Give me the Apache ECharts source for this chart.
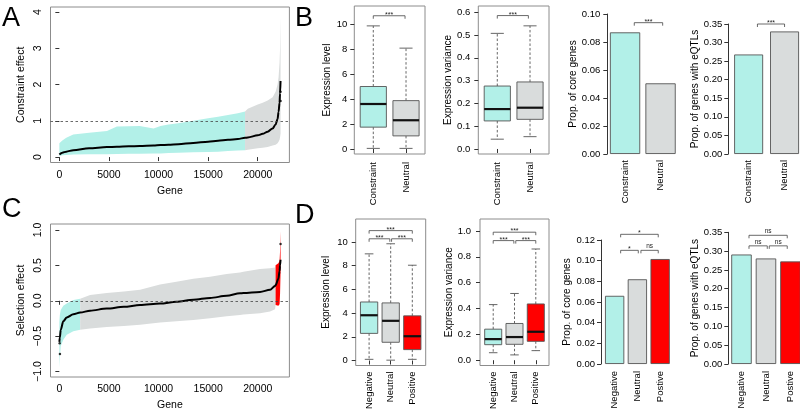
<!DOCTYPE html>
<html><head><meta charset="utf-8">
<script src="https://cdn.jsdelivr.net/npm/echarts@6/dist/echarts.min.js"></script>
<style>html,body{margin:0;padding:0;background:#fff}#c{width:800px;height:412px}</style>
</head><body><div id="c"></div>
<script>
// ---------- Panel A: constraint effect ----------
const geneA  = [1, 300, 700, 1400, 3000, 4800, 5800, 7000, 8100, 9500, 10200, 11000, 12000, 13500, 15000, 16000, 17000, 18000, 18720, 19000, 20000, 20500, 21000, 21500, 21800, 22000, 22100, 22200, 22250, 22300];
const meanA  = [0.07, 0.12, 0.15, 0.19, 0.24, 0.275, 0.285, 0.295, 0.305, 0.32, 0.33, 0.34, 0.355, 0.39, 0.425, 0.45, 0.475, 0.50, 0.53, 0.54, 0.60, 0.64, 0.70, 0.79, 0.90, 1.05, 1.25, 1.5, 1.76, 2.1];
const upperA = [0.38, 0.46, 0.53, 0.62, 0.67, 0.72, 0.84, 0.85, 0.86, 0.79, 0.86, 0.90, 0.93, 1.0, 1.07, 1.11, 1.16, 1.21, 1.26, 1.33, 1.45, 1.5, 1.56, 1.65, 1.8, 2.0, 2.2, 2.6, 3.0, 3.88];
const lowerA = [0.03, 0.05, 0.06, 0.07, 0.075, 0.08, 0.085, 0.09, 0.09, 0.1, 0.1, 0.11, 0.12, 0.13, 0.14, 0.15, 0.165, 0.18, 0.19, 0.2, 0.24, 0.26, 0.28, 0.32, 0.34, 0.38, 0.42, 0.48, 0.55, 0.65];
const segA = [[1, 18720], [18720, 22300]];
const segColA = ['#b2f0e8', '#d9dcdc'];
const extraPtsA = [[22300, 1.55], [22300, 1.8]];
const refA = 1;

// ---------- Panel C: selection effect ----------
const geneC  = [1, 50, 140, 400, 745, 1410, 2100, 3100, 4780, 6500, 8140, 10150, 11800, 13510, 15200, 16870, 18215, 18550, 20230, 21240, 21745, 21800, 22080, 22200, 22250, 22300];
const meanC  = [-0.58, -0.52, -0.41, -0.29, -0.235, -0.19, -0.166, -0.14, -0.11, -0.085, -0.06, -0.04, -0.015, 0.015, 0.04, 0.07, 0.105, 0.11, 0.125, 0.155, 0.21, 0.22, 0.31, 0.42, 0.5, 0.58];
const upperC = [-0.3, -0.2, -0.13, -0.07, -0.04, 0.01, 0.03, 0.08, 0.11, 0.13, 0.156, 0.23, 0.27, 0.31, 0.34, 0.378, 0.40, 0.41, 0.447, 0.46, 0.47, 0.5, 0.53, 0.56, 0.7, 0.98];
const lowerC = [-0.95, -0.8, -0.64, -0.55, -0.48, -0.43, -0.41, -0.39, -0.37, -0.355, -0.34, -0.305, -0.29, -0.27, -0.245, -0.22, -0.2, -0.195, -0.176, -0.15, -0.12, -0.06, -0.07, -0.05, 0.1, 0.4];
const segC = [[1, 2100], [2100, 21800], [21800, 22300]];
const segColC = ['#b2f0e8', '#d9dcdc', '#ff0000'];
const extraPtsC = [[30, -0.6], [60, -0.75], [22300, 0.8]];
const refC = 0;

// ---------- Panel B ----------
const catsB = ['Constraint', 'Neutral'];
const colB = ['#b2f0e8', '#d9dcdc'];
// [min, Q1, median, Q3, max]
const exprLevelB = [[0.05, 1.75, 3.6, 5.0, 9.85], [0.05, 1.05, 2.3, 3.87, 8.07]];
const exprVarB   = [[0.043, 0.123, 0.175, 0.276, 0.507], [0.054, 0.13, 0.181, 0.294, 0.54]];
const coreB  = [0.0869, 0.0505];
const eqtlB  = [0.268, 0.330];
// [x1, x2, y, label]
const sigB1 = [[1, 1.97, 10.66, '***']];
const sigB2 = [[1, 1.95, 0.585, '***']];
const sigB3 = [[1.26, 2.06, 0.0938, '***']];
const sigB4 = [[1.245, 2.0, 0.35, '***']];

// ---------- Panel D ----------
const catsD = ['Negative', 'Neutral', 'Positive'];
const catsD2 = ['Negative', 'Neutral', 'Postive'];
const colD = ['#b2f0e8', '#d9dcdc', '#ff0000'];
const exprLevelD = [[0.1, 2.29, 3.82, 4.94, 9.0], [0.03, 1.54, 3.35, 4.86, 9.85], [0.1, 0.92, 2.05, 3.77, 8.04]];
const exprVarD   = [[0.058, 0.12, 0.163, 0.24, 0.43], [0.041, 0.123, 0.179, 0.284, 0.516], [0.074, 0.146, 0.22, 0.435, 0.86]];
const coreD = [0.066, 0.082, 0.1016];
const eqtlD = [0.291, 0.2805, 0.2726];
const sigD1 = [[1, 3, 10.96, '***'], [1, 1.96, 10.27, '***'], [2.04, 3, 10.27, '***']];
const sigD2 = [[1, 3, 0.99, '***'], [1, 1.97, 0.925, '***'], [2.06, 3, 0.925, '***']];
const sigD3 = [[1.264, 2.917, 0.1255, '*'], [1.264, 2.04, 0.110, '*'], [2.156, 2.917, 0.110, 'ns']];
const sigD4 = [[1.306, 2.869, 0.342, 'ns'], [1.306, 2.053, 0.314, 'ns'], [2.134, 2.869, 0.314, 'ns']];

// ---------- tick labels ----------
const tickGene = [0, 5000, 10000, 15000, 20000];
const tickConstraint = [0, 1, 2, 3, 4];
const tickSelection = [-1, -0.5, 0, 0.5, 1];
const tickLevel = [0, 2, 4, 6, 8, 10];
const tickVarB = [0, 0.1, 0.2, 0.3, 0.4, 0.5, 0.6];
const tickVarD = [0, 0.2, 0.4, 0.6, 0.8, 1.0];
const tickCoreB = [0, 0.02, 0.04, 0.06, 0.08, 0.10];
const tickCoreD = [0, 0.02, 0.04, 0.06, 0.08, 0.10, 0.12];
const tickEqtl = [0, 0.05, 0.10, 0.15, 0.20, 0.25, 0.30, 0.35];

const FONT = '"Liberation Sans", Arial, Helvetica, sans-serif';
const AX = '#333', BORDER = '#8c8c8c';

function fmtN(d) { return v => (v < 0 ? '\u2212' : '') + Math.abs(v).toFixed(d); }

function mkX(gi, min, max, vals, fmt, o) {
  o = o || {};
  return {
    gridIndex: gi, type: 'value', min: min, max: max,
    splitLine: { show: false }, axisLine: { show: false },
    axisTick: { show: o.tick !== false, customValues: vals, length: 4, lineStyle: { color: AX, width: 1 } },
    axisLabel: { customValues: vals, formatter: fmt, rotate: o.rotate || 0, margin: o.margin || 7,
      fontSize: o.fs || 9.5, color: '#000', fontFamily: FONT },
    name: o.name || '', nameLocation: 'middle', nameGap: o.nameGap || 24,
    nameTextStyle: { fontSize: o.nfs || 10.5, color: '#000', fontFamily: FONT }
  };
}
function mkY(gi, min, max, vals, fmt, o) {
  o = o || {};
  return {
    gridIndex: gi, type: 'value', min: min, max: max, offset: o.offset || 0,
    splitLine: { show: false }, axisLine: { show: !!o.line, lineStyle: { color: AX, width: 1 } },
    axisTick: { show: true, customValues: vals, length: 4, lineStyle: { color: AX, width: 1 } },
    axisLabel: { customValues: vals, formatter: fmt, rotate: o.rotate || 0, margin: o.margin || 7,
      fontSize: o.fs || 9.5, color: '#000', fontFamily: FONT },
    name: o.name || '', nameLocation: 'middle', nameGap: o.nameGap || 24, nameRotate: 90,
    nameTextStyle: { fontSize: o.nfs || 10, color: '#000', fontFamily: FONT }
  };
}

function bandSeries(gi, genes, up, lo, segs, colors) {
  return {
    type: 'custom', xAxisIndex: gi, yAxisIndex: gi, silent: true, clip: true, z: 1,
    data: segs.map((s, i) => [s[0], s[1], i]),
    renderItem(params, api) {
      const a = api.value(0), b = api.value(1), ci = api.value(2);
      const top = [], bot = [];
      for (let i = 0; i < genes.length; i++) {
        if (genes[i] >= a && genes[i] <= b) {
          top.push(api.coord([genes[i], up[i]]));
          bot.push(api.coord([genes[i], lo[i]]));
        }
      }
      return { type: 'polygon', shape: { points: top.concat(bot.reverse()) }, style: { fill: colors[ci], stroke: null } };
    }
  };
}
function meanSeries(gi, genes, mean, ref) {
  return {
    type: 'line', xAxisIndex: gi, yAxisIndex: gi, silent: true, z: 3,
    data: genes.map((g, i) => [g, mean[i]]), showSymbol: false, symbol: 'none',
    smooth: 0.3, smoothMonotone: 'x',
    lineStyle: { color: '#000', width: 2 },
    markLine: { silent: true, symbol: 'none', label: { show: false },
      lineStyle: { color: '#444', width: 0.8, type: [2.5, 2.5] }, data: [{ yAxis: ref }] }
  };
}
function ptsSeries(gi, pts) {
  return { type: 'scatter', xAxisIndex: gi, yAxisIndex: gi, silent: true, z: 4, data: pts,
    symbolSize: 2.5, itemStyle: { color: '#000' } };
}
function boxSeries(gi, rows, colors) {
  return {
    type: 'custom', xAxisIndex: gi, yAxisIndex: gi, silent: true, z: 3,
    data: rows.map((r, i) => [i + 1].concat(r)),
    renderItem(params, api) {
      const x = api.value(0);
      const w = api.size([0.8, 0])[0], hw = w / 2;
      const pMin = api.coord([x, api.value(1)]), pQ1 = api.coord([x, api.value(2)]),
        pMed = api.coord([x, api.value(3)]), pQ3 = api.coord([x, api.value(4)]), pMax = api.coord([x, api.value(5)]);
      const cx = pMed[0];
      const dash = { stroke: '#555', lineWidth: 0.9, lineDash: [2.5, 2] };
      const solid = { stroke: '#555', lineWidth: 0.9 };
      return { type: 'group', children: [
        { type: 'line', shape: { x1: cx, y1: pQ3[1], x2: cx, y2: pMax[1] }, style: dash },
        { type: 'line', shape: { x1: cx, y1: pQ1[1], x2: cx, y2: pMin[1] }, style: dash },
        { type: 'line', shape: { x1: cx - hw / 2, y1: pMax[1], x2: cx + hw / 2, y2: pMax[1] }, style: solid },
        { type: 'line', shape: { x1: cx - hw / 2, y1: pMin[1], x2: cx + hw / 2, y2: pMin[1] }, style: solid },
        { type: 'rect', shape: { x: cx - hw, y: pQ3[1], width: w, height: pQ1[1] - pQ3[1] },
          style: { fill: colors[params.dataIndex], stroke: '#555', lineWidth: 0.9 } },
        { type: 'line', shape: { x1: cx - hw, y1: pMed[1], x2: cx + hw, y2: pMed[1] }, style: { stroke: '#111', lineWidth: 2.2 } }
      ] };
    }
  };
}
function barSeries(gi, vals, colors, bw) {
  return {
    type: 'bar', xAxisIndex: gi, yAxisIndex: gi, silent: true, z: 3, barWidth: bw,
    data: vals.map((v, i) => ({ value: [i + 1, v], itemStyle: { color: colors[i], borderColor: '#555', borderWidth: 0.9 } }))
  };
}
function sigSeries(gi, items) {
  return {
    type: 'custom', xAxisIndex: gi, yAxisIndex: gi, silent: true, clip: false, z: 5,
    data: items.map((b, i) => [b[0], b[2], i]),
    renderItem(params, api) {
      const b = items[params.dataIndex];
      const p1 = api.coord([b[0], b[2]]), p2 = api.coord([b[1], b[2]]);
      const d = 3;
      const star = b[3].indexOf('*') >= 0;
      return { type: 'group', children: [
        { type: 'polyline', shape: { points: [[p1[0], p1[1] + d], [p1[0], p1[1]], [p2[0], p2[1]], [p2[0], p2[1] + d]] },
          style: { stroke: '#444', lineWidth: 0.8, fill: null } },
        { type: 'text', x: (p1[0] + p2[0]) / 2, y: p1[1] + (star ? 2.5 : -0.5),
          style: { text: b[3], fill: '#222', fontSize: star ? 7 : 6.5, align: 'center', verticalAlign: 'bottom', fontFamily: FONT } }
      ] };
    }
  };
}

const gridBox = { show: true, borderColor: BORDER, borderWidth: 1, backgroundColor: 'transparent' };
const option = {
  animation: false,
  textStyle: { fontFamily: FONT },
  grid: [
    Object.assign({ left: 50.5, top: 7, width: 238.9, height: 155.5 }, gridBox),     // A
    Object.assign({ left: 50.5, top: 224, width: 238.9, height: 156 }, gridBox),     // C
    Object.assign({ left: 354.3, top: 6, width: 70.7, height: 148 }, gridBox),       // B1
    Object.assign({ left: 478.3, top: 6, width: 70.7, height: 148 }, gridBox),       // B2
    { left: 607.3, top: 14, width: 71, height: 140 },                                 // B3
    { left: 728.3, top: 24, width: 72.4, height: 130 },                               // B4
    Object.assign({ left: 355.7, top: 219, width: 70, height: 147.7 }, gridBox),     // D1
    Object.assign({ left: 480, top: 219, width: 69, height: 147.7 }, gridBox),       // D2
    { left: 601, top: 240, width: 70.5, height: 124 },                                // D3
    { left: 728.3, top: 232.3, width: 71.8, height: 131.7 }                           // D4
  ],
  xAxis: [
    mkX(0, -892, 23192, tickGene, v => String(v), { fs: 10.5, margin: 7, name: 'Gene', nameGap: 23 }),
    mkX(1, -892, 23192, tickGene, v => String(v), { fs: 10.5, margin: 7, name: 'Gene', nameGap: 23 }),
    mkX(2, 0.42, 2.58, [1, 2], v => catsB[Math.round(v) - 1], { rotate: 90, margin: 8 }),
    mkX(3, 0.42, 2.58, [1, 2], v => catsB[Math.round(v) - 1], { rotate: 90, margin: 8 }),
    mkX(4, 0.5, 2.5, [1, 2], v => catsB[Math.round(v) - 1], { rotate: 90, margin: 6, tick: false }),
    mkX(5, 0.434, 2.43, [1, 2], v => catsB[Math.round(v) - 1], { rotate: 90, margin: 6, tick: false }),
    mkX(6, 0.38, 3.62, [1, 2, 3], v => catsD[Math.round(v) - 1], { rotate: 90, margin: 6 }),
    mkX(7, 0.38, 3.62, [1, 2, 3], v => catsD[Math.round(v) - 1], { rotate: 90, margin: 6 }),
    mkX(8, 0.4, 3.5, [1, 2, 3], v => catsD2[Math.round(v) - 1], { rotate: 90, margin: 7, tick: false }),
    mkX(9, 0.461, 3.39, [1, 2, 3], v => catsD2[Math.round(v) - 1], { rotate: 90, margin: 7, tick: false })
  ],
  yAxis: [
    mkY(0, -0.15, 4.14, tickConstraint, v => String(v), { rotate: 90, fs: 10.5, margin: 7, name: 'Constraint effect', nameGap: 24, nfs: 10.5 }),
    mkY(1, -1.076, 1.084, tickSelection, fmtN(1), { rotate: 90, fs: 10.5, margin: 7, name: 'Selection effect', nameGap: 24, nfs: 10.5 }),
    mkY(2, -0.4, 11.44, tickLevel, v => String(v), { margin: 7, name: 'Expression level', nameGap: 22 }),
    mkY(3, -0.022, 0.627, tickVarB, fmtN(1), { margin: 8, name: 'Expression variance', nameGap: 24 }),
    mkY(4, 0, 0.10, tickCoreB, fmtN(2), { line: true, margin: 7, name: 'Prop. of core genes', nameGap: 29 }),
    mkY(5, 0, 0.35, tickEqtl, fmtN(2), { line: true, margin: 6, name: 'Prop. of genes with eQTLs', nameGap: 25 }),
    mkY(6, -0.42, 11.94, tickLevel, v => String(v), { margin: 8, name: 'Expression level', nameGap: 24 }),
    mkY(7, -0.041, 1.092, tickVarD, fmtN(1), { margin: 9, name: 'Expression variance', nameGap: 25 }),
    mkY(8, 0, 0.12, tickCoreD, fmtN(2), { line: true, margin: 6, name: 'Prop. of core genes', nameGap: 27 }),
    mkY(9, 0, 0.35, tickEqtl, fmtN(2), { line: true, margin: 6, name: 'Prop. of genes with eQTLs', nameGap: 25 })
  ],
  series: [
    bandSeries(0, geneA, upperA, lowerA, segA, segColA),
    meanSeries(0, geneA, meanA, refA),
    ptsSeries(0, extraPtsA),
    bandSeries(1, geneC, upperC, lowerC, segC, segColC),
    meanSeries(1, geneC, meanC, refC),
    ptsSeries(1, extraPtsC),
    boxSeries(2, exprLevelB, colB), sigSeries(2, sigB1),
    boxSeries(3, exprVarB, colB), sigSeries(3, sigB2),
    barSeries(4, coreB, colB, 30.3), sigSeries(4, sigB3),
    barSeries(5, eqtlB, colB, 29), sigSeries(5, sigB4),
    boxSeries(6, exprLevelD, colD), sigSeries(6, sigD1),
    boxSeries(7, exprVarD, colD), sigSeries(7, sigD2),
    barSeries(8, coreD, colD, 19.3), sigSeries(8, sigD3),
    barSeries(9, eqtlD, colD, 20.5), sigSeries(9, sigD4)
  ],
  graphic: [
    { type: 'text', left: 2, top: 5, style: { text: 'A', fontSize: 27, fill: '#000', fontFamily: FONT } },
    { type: 'text', left: 295, top: 5, style: { text: 'B', fontSize: 27, fill: '#000', fontFamily: FONT } },
    { type: 'text', left: 2, top: 196, style: { text: 'C', fontSize: 27, fill: '#000', fontFamily: FONT } },
    { type: 'text', left: 295, top: 202, style: { text: 'D', fontSize: 27, fill: '#000', fontFamily: FONT } }
  ]
};
const chart = echarts.init(document.getElementById('c'), null, { renderer: 'canvas', width: 800, height: 412 });
chart.setOption(option);
</script>
</body></html>
